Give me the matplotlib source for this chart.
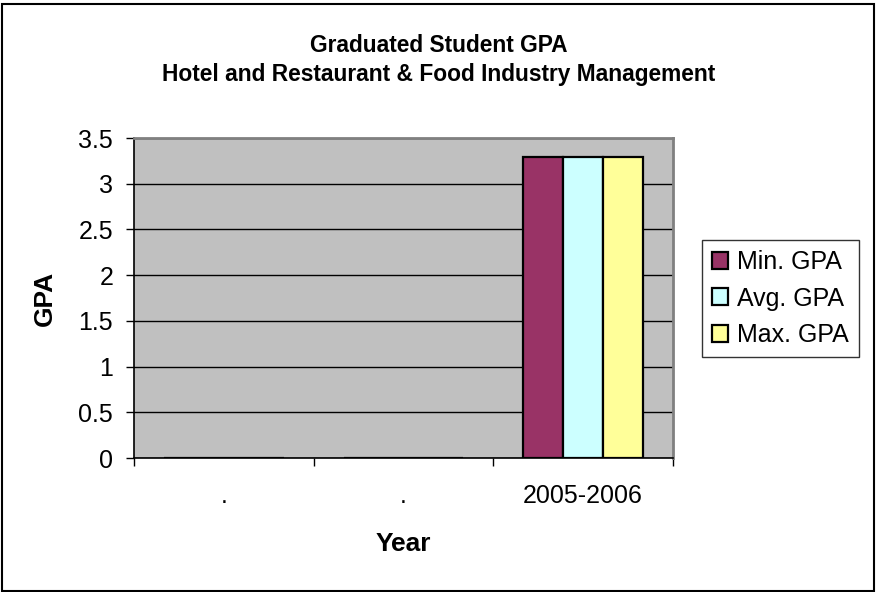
import numpy as np
import matplotlib.pyplot as plt
from matplotlib.patches import Rectangle

plt.rcParams['font.family'] = ['Liberation Sans', 'DejaVu Sans']

# data
years = [".", ".", "2005-2006"]
min_gpa = [0, 0, 3.29]
avg_gpa = [0, 0, 3.29]
max_gpa = [0, 0, 3.29]

series = ["Min. GPA", "Avg. GPA", "Max. GPA"]
colors = ["#993366", "#CCFFFF", "#FFFF99"]

fig = plt.figure(figsize=(8.78, 5.92), dpi=100)
ax = fig.add_axes([134 / 878, 1 - 458 / 592, (673 - 134) / 878, (458 - 138) / 592])
ax.set_facecolor("#C0C0C0")

x = np.arange(len(years))
w = 0.222
for i, (vals, lab, c) in enumerate(zip([min_gpa, avg_gpa, max_gpa], series, colors)):
    ax.bar(x + (i - 1) * w, vals, width=w, color=c, edgecolor="black",
           linewidth=1.6, label=lab, zorder=3)

ax.set_xlim(-0.5, 2.5)
ax.set_ylim(0, 3.5)
ax.set_yticks(np.arange(0, 3.51, 0.5))
ax.set_yticklabels(["0", "0.5", "1", "1.5", "2", "2.5", "3", "3.5"])
ax.yaxis.grid(True, color="black", linewidth=1)
ax.set_axisbelow(True)

# category ticks sit between groups, labels under group centres
ax.set_xticks([-0.5, 0.5, 1.5, 2.5])
ax.set_xticklabels([])
ax.set_xticks(x, minor=True)
ax.set_xticklabels(years, minor=True)
ax.tick_params(axis="x", which="major", length=6, width=1, direction="out")
ax.tick_params(axis="x", which="minor", length=0, pad=19, labelsize=18)
ax.tick_params(axis="y", length=6, width=1, direction="out", pad=9, labelsize=18)

for s in ["top", "right"]:
    ax.spines[s].set_color("#808080")
    ax.spines[s].set_linewidth(2)
for s in ["left", "bottom"]:
    ax.spines[s].set_color("black")
    ax.spines[s].set_linewidth(1.2)

ax.set_xlabel("Year", fontsize=19, fontweight="bold", va="center")
ax.xaxis.set_label_coords(0.5, (458 - 544) / 320)
ax.set_ylabel("GPA", fontsize=19, fontweight="bold", va="center")
ax.yaxis.set_label_coords((45 - 134) / 539, 0.5)

fig.text(0.5, 1 - 46 / 592, "Graduated Student GPA", ha="center", va="center",
         fontsize=16.4, fontweight="bold")
fig.text(0.5, 1 - 75 / 592, "Hotel and Restaurant & Food Industry Management",
         ha="center", va="center", fontsize=16.4, fontweight="bold")

leg = fig.legend(loc="upper left", bbox_to_anchor=(702 / 878, 1 - 240 / 592),
                 fontsize=18, frameon=True, fancybox=False, edgecolor="black",
                 handlelength=0.65, handleheight=0.65, handletextpad=0.35,
                 labelspacing=0.5, borderpad=0.4, borderaxespad=0)
leg.get_frame().set_linewidth(1)

# outer chart border
fig.patches.append(Rectangle((0.002, 0.002), 0.994, 0.991, transform=fig.transFigure,
                             fill=False, edgecolor="black", linewidth=1.5))

fig.savefig("out.png", dpi=100)
